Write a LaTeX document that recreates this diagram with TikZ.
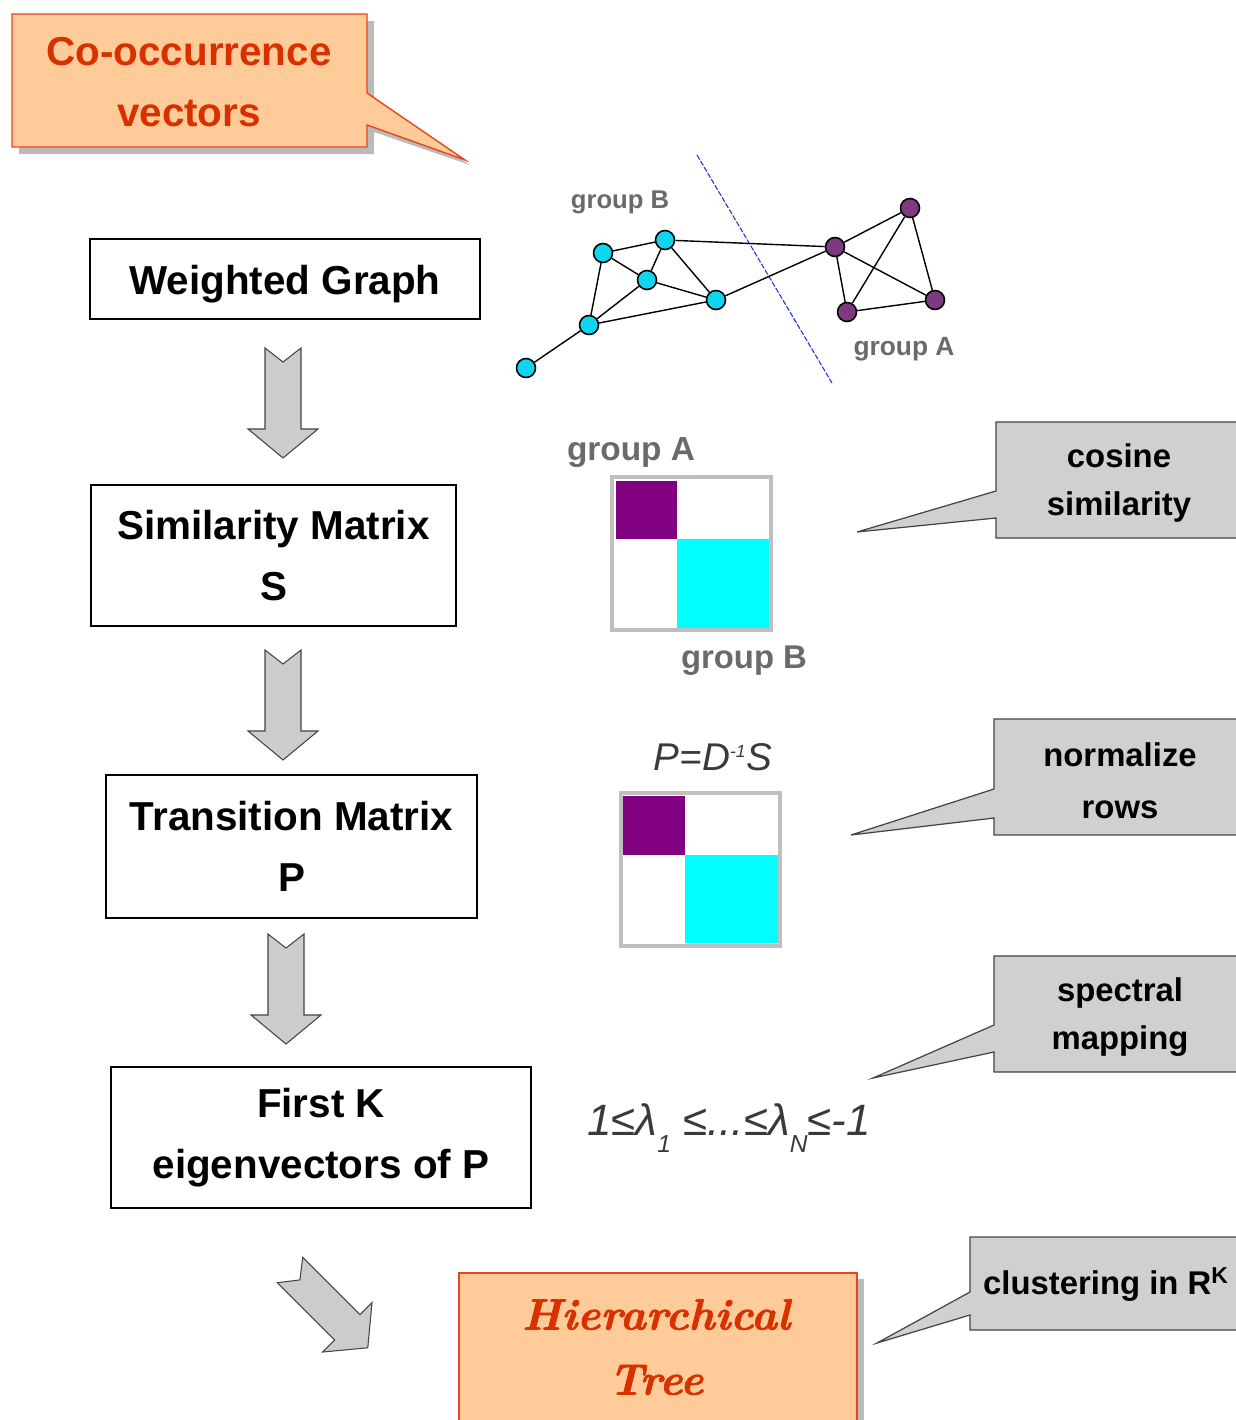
\documentclass[tikz,border=0pt]{standalone}
\usepackage{fontspec}
\newfontfamily\hv{Liberation Sans}
\newfontfamily\lmbi{lmroman10-bolditalic}[Extension=.otf, FakeBold=1.5]
\definecolor{peachc}{HTML}{FFCC99}
\definecolor{redc}{HTML}{E8451E}
\definecolor{redtxt}{HTML}{D93000}
\definecolor{grayc}{HTML}{D0D0D0}
\definecolor{darkc}{HTML}{444444}
\definecolor{arrowc}{HTML}{CCCCCC}
\definecolor{shadowc}{HTML}{BBBBBB}
\definecolor{grpc}{HTML}{6A6A6A}
\definecolor{nodecyan}{HTML}{11D4EE}
\definecolor{nodepurple}{HTML}{7E3A80}
\definecolor{matpurple}{HTML}{800080}
\definecolor{matcyan}{HTML}{00FFFF}
\definecolor{framec}{HTML}{BFBFBF}
\definecolor{formc}{HTML}{3A3A3A}
\definecolor{cutc}{HTML}{2030E0}
\newcommand\bigtxt{\hv\bfseries\fontsize{23}{34.6}\selectfont}
\newcommand\subtxt[1]{\raisebox{-0.4em}{\fontsize{14}{14}\selectfont #1}}
\begin{document}
\begin{tikzpicture}[x=0.02cm,y=-0.02cm,
  box/.style={draw=black, line width=0.8pt, fill=white, inner sep=0pt, align=center, font=\bigtxt},
  peach/.style={fill=peachc, draw=redc, line width=0.8pt},
  callg/.style={fill=grayc, draw=darkc, line width=0.7pt},
  blockarrow/.style={fill=arrowc, draw=darkc, line width=0.6pt},
  vnode/.style={circle, draw=black, line width=0.9pt, minimum size=0.38cm, inner sep=0pt},
  cyn/.style={vnode, fill=nodecyan},
  pur/.style={vnode, fill=nodepurple},
  edge/.style={line width=0.8pt, black},
  grp/.style={text=grpc, inner sep=0pt},
  calltext/.style={align=center, inner sep=0pt, text=black},
  barrow/.pic={\draw[blockarrow] (-18,0) -- (0,14) -- (18,0) -- (18,81) -- (35,81) -- (0,110) -- (-35,81) -- (-18,81) -- cycle;}
]
\useasboundingbox (0,0) rectangle (1236,1420);
\clip (0,0) rectangle (1236,1420);

% Co-occurrence callout
\fill[shadowc] (19,21) -- (374,21) -- (374,100) -- (470,165) -- (374,132) -- (374,154) -- (19,154) -- cycle;
\draw[peach] (12,14) -- (367,14) -- (367,93) -- (465,160) -- (367,125) -- (367,147) -- (12,147) -- cycle;
\node[align=center, inner sep=0pt, text=redtxt, font=\hv\bfseries\fontsize{23}{34.6}\selectfont] (co) at (189,82) {Co-occurrence\\vectors};

% main boxes
\node[box, minimum width=7.8cm, minimum height=1.6cm] (wg) at (285,279) {\raisebox{0pt}[0.76em][0pt]{Weighted Graph}};
\node[box, minimum width=7.3cm, minimum height=2.82cm] (sm) at (273.5,555.5) {Similarity Matrix\\S};
\node[box, minimum width=7.42cm, minimum height=2.86cm] (tm) at (291.5,846.5) {Transition Matrix\\P};
\node[box, minimum width=8.4cm, minimum height=2.82cm] (fk) at (321,1137.5) {First K\\eigenvectors of P};

% block arrows
\pic at (283,348) {barrow};
\pic at (283,650) {barrow};
\pic at (286,934) {barrow};
\pic[rotate=45] at (290,1270) {barrow};

% Hierarchical tree
\fill[shadowc] (465,1279) rectangle (864,1430);
\draw[peach] (459,1273) rectangle (857,1430);
\node[align=center, inner sep=0pt, text=redtxt, font=\lmbi\fontsize{25}{37}\selectfont] (ht) at (656,1347) {Hierarchical\\Tree};

% graph
\draw[cutc, line width=0.6pt, dash pattern=on 3pt off 1pt] (697,155) -- (832,383);
\node[cyn] (c1) at (603,253) {};
\node[cyn] (c2) at (665,240) {};
\node[cyn] (c3) at (647,280) {};
\node[cyn] (c4) at (716,300) {};
\node[cyn] (c5) at (589,325) {};
\node[cyn] (c6) at (526,368) {};
\node[pur] (p1) at (835,247) {};
\node[pur] (p2) at (910,208) {};
\node[pur] (p3) at (847,312) {};
\node[pur] (p4) at (935,300) {};
\foreach \a/\b in {c1/c2,c1/c3,c1/c5,c2/c3,c2/c4,c3/c4,c3/c5,c5/c4,c5/c6,c2/p1,c4/p1,p1/p2,p1/p3,p1/p4,p2/p3,p2/p4,p3/p4}
  \draw[edge] (\a) -- (\b);
\node[grp, font=\hv\bfseries\fontsize{14.6}{16}\selectfont] (gB1) at (620,202) {group B};
\node[grp, font=\hv\bfseries\fontsize{15}{16}\selectfont] (gA1) at (904,349) {group A};

% similarity matrix picture
\node[grp, font=\hv\bfseries\fontsize{19}{20}\selectfont] (gA2) at (631,453) {group A};
\node[grp, font=\hv\bfseries\fontsize{18.7}{20}\selectfont] (gB2) at (744,661) {group B};
\fill[white] (612,477) rectangle (771,630);
\fill[matpurple] (616,481) rectangle (677,539);
\fill[matcyan] (677,539) rectangle (770,628);
\draw[framec, line width=2.3pt] (612,477) rectangle (771,630);

% transition matrix picture
\node[inner sep=0pt, text=formc, font=\hv\itshape\fontsize{22}{24}\selectfont] (pf) at (713,757) {P=D\textsuperscript{\fontsize{10}{10}\selectfont -1}S};
\fill[white] (621,793) rectangle (780,946);
\fill[matpurple] (622,796) rectangle (685,855);
\fill[matcyan] (685,855) rectangle (779,943);
\draw[framec, line width=2.3pt] (621,793) rectangle (780,946);

% eigen formula
\node[inner sep=0pt, text=formc, font=\hv\itshape\fontsize{25}{27}\selectfont] (ef) at (729,1128) {1≤λ\subtxt{1} ≤...≤λ\subtxt{N}≤-1};

% gray callouts
\draw[callg] (1250,422) -- (996,422) -- (996,491) -- (857,532) -- (996,518) -- (996,538) -- (1250,538);
\node[calltext, font=\hv\bfseries\fontsize{18.7}{27.8}\selectfont] (cs) at (1119,483) {cosine\\similarity};
\draw[callg] (1250,719) -- (994,719) -- (994,789) -- (851,835) -- (994,818) -- (994,835) -- (1250,835);
\node[calltext, font=\hv\bfseries\fontsize{18.7}{29.5}\selectfont] (nr) at (1120,781) {normalize\\rows};
\draw[callg] (1250,956) -- (994,956) -- (994,1025) -- (873,1078) -- (994,1052) -- (994,1072) -- (1250,1072);
\node[calltext, font=\hv\bfseries\fontsize{18.7}{27.8}\selectfont] (spm) at (1120,1017) {spectral\\mapping};
\draw[callg] (1250,1237) -- (970,1237) -- (970,1292) -- (877,1343) -- (970,1315) -- (970,1330) -- (1250,1330);
\node[calltext, font=\hv\bfseries\fontsize{18.7}{22}\selectfont] (cl) at (1106,1285) {clustering in R\textsuperscript{K}};
\end{tikzpicture}
\end{document}
